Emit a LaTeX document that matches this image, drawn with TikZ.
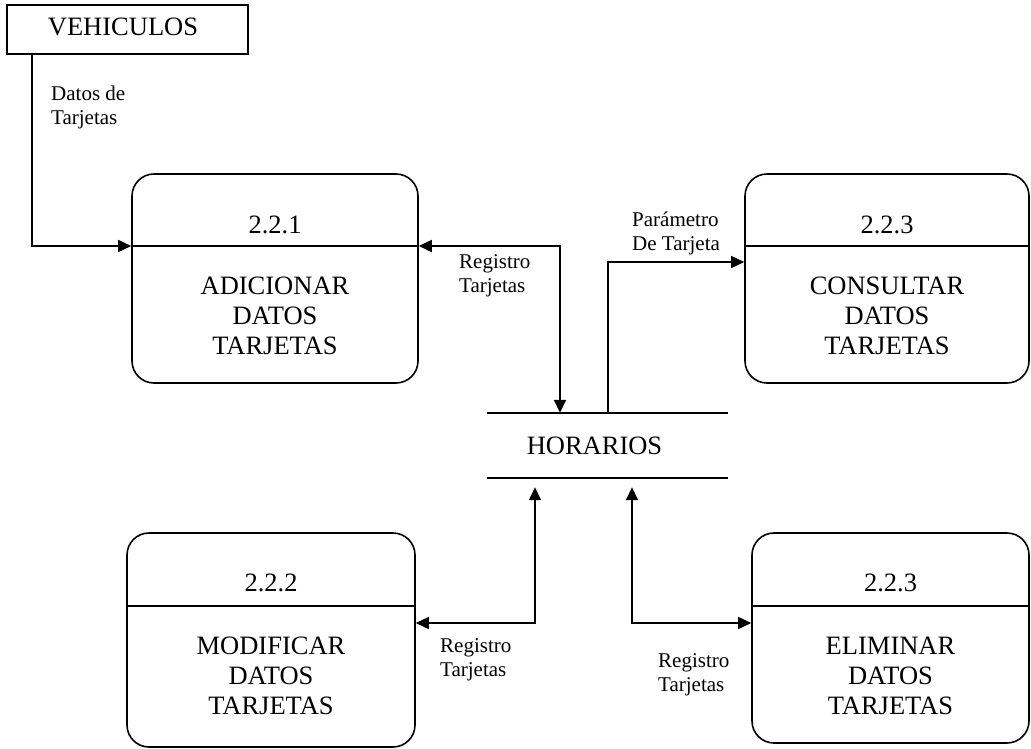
\documentclass[tikz,border=0pt]{standalone}
\usepackage{fontspec}
\setmainfont{Liberation Serif}
\usetikzlibrary{arrows.meta}
\begin{document}
\begin{tikzpicture}[x=1pt,y=-1pt,
  lw/.style={line width=1.6pt},
  proc/.style={draw, lw, rounded corners=22pt, inner sep=0},
  bigfont/.style={font=\fontsize{26.5}{30}\selectfont},
  pid/.style={bigfont, anchor=base},
  pname/.style={bigfont, align=center, anchor=north, inner sep=0},
  flowlabel/.style={font=\fontsize{21}{24}\selectfont, align=left, anchor=north west, inner sep=0},
  flow/.style={lw, -{Triangle[length=13pt,width=12pt]}},
  biflow/.style={lw, {Triangle[length=13pt,width=12pt]}-{Triangle[length=13pt,width=12pt]}},
]
\useasboundingbox (0,0) rectangle (1031,748);

% external entity
\node[draw, lw, bigfont, minimum width=241pt, minimum height=49pt, inner sep=0,
      text height=17pt, text depth=6pt] (veh) at (127.5,29.5) {VEHICULOS\hspace*{9pt}};

% processes
\node[proc, minimum width=286pt, minimum height=209pt] (p1) at (275,278.5) {};
\node[proc, minimum width=284pt, minimum height=209pt] (p3) at (887,278.5) {};
\node[proc, minimum width=288pt, minimum height=214pt] (p2) at (271,640) {};
\node[proc, minimum width=277pt, minimum height=210pt] (p4) at (890.5,638) {};

\draw[lw] (p1.west |- 0,246) -- (p1.east |- 0,246);
\draw[lw] (p3.west |- 0,246) -- (p3.east |- 0,246);
\draw[lw] (p2.west |- 0,606) -- (p2.east |- 0,606);
\draw[lw] (p4.west |- 0,606) -- (p4.east |- 0,606);

\node[pid] (p1id) at (p1.center |- 0,233) {2.2.1};
\node[pid] (p3id) at (p3.center |- 0,233) {2.2.3};
\node[pid] (p2id) at (p2.center |- 0,591) {2.2.2};
\node[pid] (p4id) at (p4.center |- 0,591) {2.2.3};

\node[pname] (p1name) at (p1.center |- 0,277) {ADICIONAR\\DATOS\\TARJETAS};
\node[pname] (p3name) at (p3.center |- 0,277) {CONSULTAR\\DATOS\\TARJETAS};
\node[pname] (p2name) at (p2.center |- 0,637) {MODIFICAR\\DATOS\\TARJETAS};
\node[pname] (p4name) at (p4.center |- 0,637) {ELIMINAR\\DATOS\\TARJETAS};

% data store
\node[bigfont, minimum width=241pt, minimum height=65pt, inner sep=0] (st) at (607.5,445.5) {HORARIOS\hspace*{26pt}};
\draw[lw] (st.north west) -- (st.north east);
\draw[lw] (st.south west) -- (st.south east);

% flows
\draw[flow] (veh.south -| 32,0) |- (p1.west |- 0,246);
\draw[biflow] (p1.east |- 0,246) -| (560,0 |- st.north);
\draw[flow] (608,0 |- st.north) |- (p3.west |- 0,262);
\draw[biflow, shorten <=9pt] (535,0 |- st.south) |- (p2.east |- 0,623);
\draw[biflow, shorten <=9pt] (632,0 |- st.south) |- (p4.west |- 0,623);

% labels
\node[flowlabel] (l1) at (51,86) {Datos de\\Tarjetas};
\node[flowlabel] (l2) at (459,254) {Registro\\Tarjetas};
\node[flowlabel] (l3) at (632,212) {Parámetro\\De Tarjeta};
\node[flowlabel] (l4) at (440,638) {Registro\\Tarjetas};
\node[flowlabel] (l5) at (658,653) {Registro\\Tarjetas};
\end{tikzpicture}
\end{document}
